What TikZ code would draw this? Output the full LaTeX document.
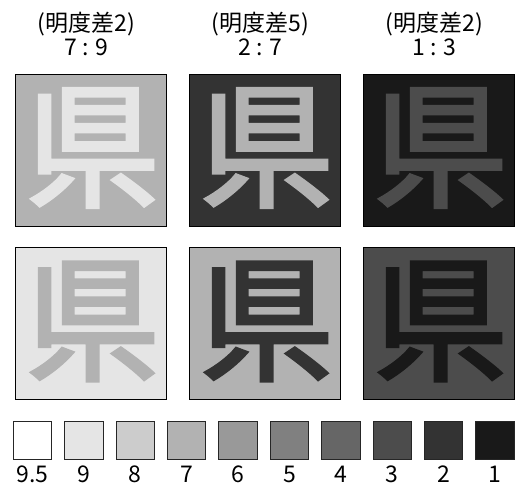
\documentclass[tikz,border=0pt]{standalone}
\usepackage{fontspec}
\newfontfamily\cjk{Noto Sans CJK JP}
\newfontfamily\cjkk{Noto Sans CJK JP}[FakeBold=2.4]
\definecolor{g95}{gray}{1}
\definecolor{g9}{gray}{0.9}
\definecolor{g8}{gray}{0.8}
\definecolor{g7}{gray}{0.7}
\definecolor{g6}{gray}{0.6}
\definecolor{g5}{gray}{0.5}
\definecolor{g4}{gray}{0.4}
\definecolor{g3}{gray}{0.3}
\definecolor{g2}{gray}{0.2}
\definecolor{g1}{gray}{0.1}
\begin{document}
\begin{tikzpicture}[x=1pt,y=-1pt,
  panel/.style={draw=black, line width=0.8pt, minimum width=151pt, minimum height=152pt, inner sep=0pt},
  kanji/.style={font=\cjkk\fontsize{135}{135}\selectfont, inner sep=0pt},
  swatch/.style={draw=black!85, line width=1pt, minimum width=38.5pt, minimum height=37.5pt, inner sep=0pt},
  lab/.style={font=\cjk\fontsize{23}{23}\selectfont, inner sep=0pt, anchor=base},
  num/.style={font=\cjk\fontsize{23}{23}\selectfont, inner sep=0pt, anchor=base}]
\useasboundingbox (0,0) rectangle (518,486);
% labels
\node[lab] (t1) at (86.5,32) {(明度差2)};
\node[lab] (t2) at (260.5,32) {(明度差5)};
\node[lab] (t3) at (434.5,32) {(明度差2)};
\node[lab] (r1) at (86.5,56) {7 : 9};
\node[lab] (r2) at (260.5,56) {2 : 7};
\node[lab] (r3) at (434.5,56) {1 : 3};
% panels row 1
\node[panel, fill=g7] (p11) at (90.5,150) {};
\node[panel, fill=g2] (p12) at (264.5,150) {};
\node[panel, fill=g1] (p13) at (438.5,150) {};
\node[kanji, text=g9] (k11) at (92.5,148) {県};
\node[kanji, text=g7] (k12) at (266.5,148) {県};
\node[kanji, text=g3] (k13) at (440.5,148) {県};
% panels row 2
\node[panel, fill=g9] (p21) at (90.5,323.5) {};
\node[panel, fill=g7] (p22) at (264.5,323.5) {};
\node[panel, fill=g3] (p23) at (438.5,323.5) {};
\node[kanji, text=g7] (k21) at (92.5,321.5) {県};
\node[kanji, text=g2] (k22) at (266.5,321.5) {県};
\node[kanji, text=g1] (k23) at (440.5,321.5) {県};
% swatches
\foreach \c/\v [count=\i from 0] in {g95/9.5,g9/9,g8/8,g7/7,g6/6,g5/5,g4/4,g3/3,g2/2,g1/1}{
  \node[swatch, fill=\c] (s\i) at ({32.5+51.4*\i},440.5) {};
  \node[num] (n\i) at ({32.5+51.4*\i},482) {\v};
}
\end{tikzpicture}
\end{document}
